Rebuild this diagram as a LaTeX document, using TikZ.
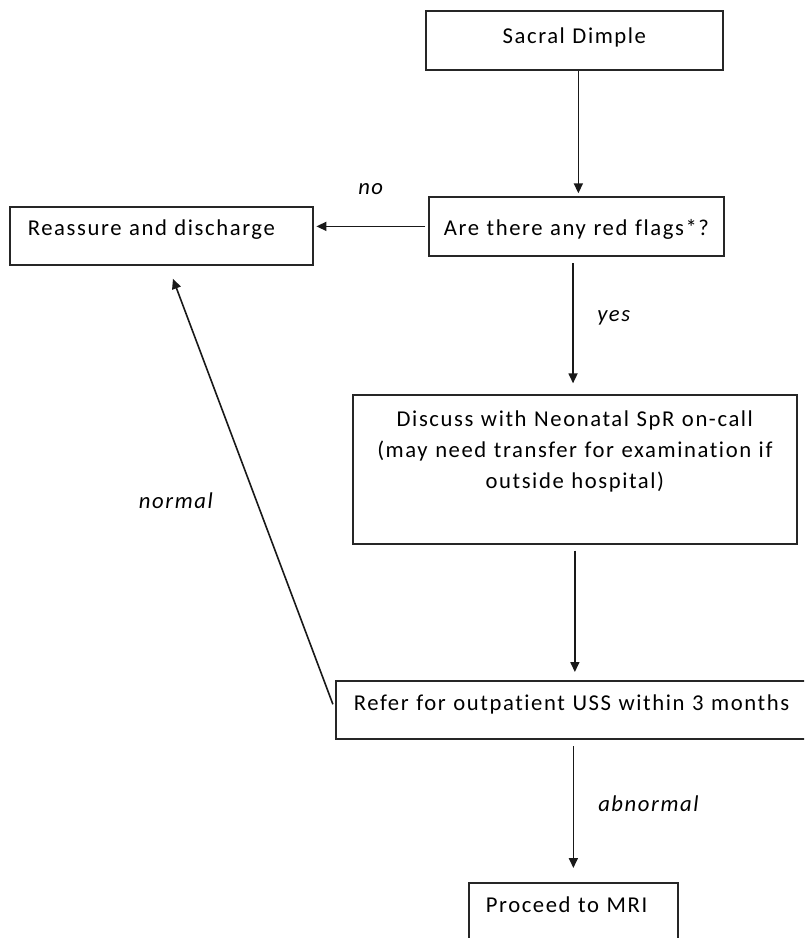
\documentclass[tikz,border=0pt]{standalone}
\usepackage{fontspec}
\setmainfont[LetterSpace=7,Ligatures=NoCommon]{Carlito}
\usetikzlibrary{arrows.meta}
\usetikzlibrary{calc}
\newcommand{\flowfont}{\fontsize{17}{23.25}\selectfont}
\newcommand{\bxpad}{13.5pt}
\newcommand{\bxpadm}{12.75pt}
\tikzset{
  flowbox/.style={draw=black!85, line width=1.3pt, anchor=north west,
    inner ysep=0pt, inner xsep=\bxpad, font=\flowfont},
  flowarrow/.style={draw=black!90, line width=1.2pt,
    -{Triangle[length=7.5pt,width=6.75pt]}},
  flowlabel/.style={font=\flowfont\itshape, inner sep=0pt}
}

\begin{document}
\begin{tikzpicture}[x=0.75pt,y=-0.75pt]
    \clip (0,0) rectangle (804,938);
    \fill[white] (0,0) rectangle (804,938);

    \node[flowbox, inner xsep=2pt, text width=218.75pt, align=center,
      text height=24.75pt, text depth=19.5pt] (dimple) at (425,10)
      {Sacral Dimple};
    \node[flowbox, inner xsep=2pt, text width=217.25pt, align=center,
      text height=29.25pt, text depth=15pt] (flags) at (428,196)
      {Are there any red flags*?};
    \node[flowbox, text width=200.25pt, align=left,
      text height=21.75pt, text depth=21.75pt] (reassure) at (9,206)
      {Reassure and discharge};
    \node[flowbox, inner xsep=1pt, text width=331pt, align=center,
      text height=24pt, text depth=87.75pt] (discuss) at (352,394)
      {Discuss with Neonatal SpR on-call\\
       (may need transfer for examination if\\
       outside hospital)};
    \node[flowbox, text width=333pt, align=left,
      text height=22.5pt, text depth=21pt] (refer) at (335,680)
      {Refer for outpatient USS within 3 months};
    \node[flowbox, inner xsep=\bxpadm, text width=131.25pt, align=left,
      text height=22.5pt, text depth=21pt] (mri) at (468,882)
      {Proceed to MRI};

    \draw[flowarrow, shorten >=2pt]
      ([xshift=3pt]dimple.south) -- ([xshift=3pt]dimple.south |- flags.north);
    \draw[flowarrow, shorten <=2pt, shorten >=2pt]
      (flags.west) -- (flags.west -| reassure.east);
    \draw[flowarrow, shorten <=5pt, shorten >=8pt]
      ([xshift=-2.5pt]flags.south) -- ([xshift=-2.5pt]flags.south |- discuss.north);
    \draw[flowarrow, shorten <=4.5pt, shorten >=6pt]
      (discuss.south) -- (discuss.south |- refer.north);
    \draw[flowarrow, shorten <=5pt, shorten >=10.5pt]
      (refer.south -| mri.north) -- (mri.north);
    \draw[flowarrow, shorten <=4.5pt, shorten >=10.5pt]
      (refer.west) -- ([xshift=5pt]reassure.south);

    \node[flowlabel, anchor=base west] (nolbl) at (358,195) {no};
    \node[flowlabel, anchor=base west] (yeslbl) at (597,321) {yes};
    \node[flowlabel, anchor=base east] (normallbl) at (213,508) {normal};
    \node[flowlabel, anchor=base west] (abnormallbl) at (598,811) {abnormal};
\end{tikzpicture}
\end{document}
